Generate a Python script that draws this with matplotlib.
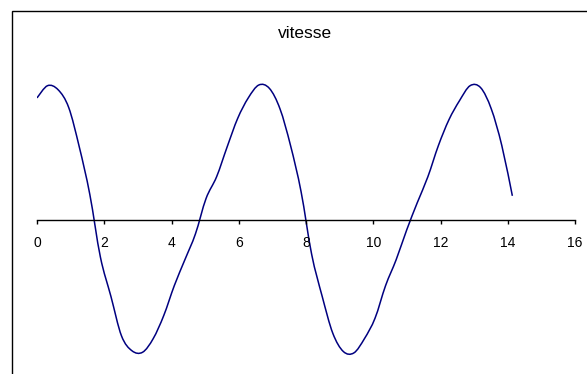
import numpy as np
import matplotlib
matplotlib.use("Agg")
import matplotlib.pyplot as plt
from matplotlib.patches import Rectangle, PathPatch
from matplotlib.path import Path

plt.rcParams['font.family'] = ['Liberation Sans', 'DejaVu Sans']

# sampled time values (step ~ pi/10)
t = [0.000, 0.314, 0.628, 0.942, 1.257, 1.571, 1.885, 2.199, 2.513, 2.827,
     3.142, 3.456, 3.770, 4.084, 4.398, 4.712, 5.027, 5.341, 5.655, 5.969,
     6.283, 6.597, 6.912, 7.226, 7.540, 7.854, 8.168, 8.482, 8.796, 9.111,
     9.425, 9.739, 10.053, 10.367, 10.681, 10.996, 11.310, 11.624, 11.938, 12.252,
     12.566, 12.881, 13.195, 13.509, 13.823, 14.137]
vitesse = [0.90, 0.99, 0.96, 0.83, 0.54, 0.19, -0.27, -0.56, -0.85, -0.96,
           -0.97, -0.87, -0.70, -0.48, -0.29, -0.10, 0.16, 0.32, 0.54, 0.75,
           0.90, 0.995, 0.97, 0.82, 0.55, 0.21, -0.25, -0.56, -0.83, -0.965,
           -0.975, -0.87, -0.72, -0.48, -0.29, -0.07, 0.13, 0.32, 0.55, 0.74,
           0.88, 0.99, 0.975, 0.82, 0.55, 0.18]
xticks = [0, 2, 4, 6, 8, 10, 12, 14, 16]
title = "vitesse"

W, H = 587, 374
fig = plt.figure(figsize=(W / 100, H / 100), dpi=100)
fig.patch.set_facecolor('white')

# outer chart frame (continues past right/bottom edges)
fig.patches.append(Rectangle((12 / W, -0.1), 1.2, 1 - 11 / H + 0.1,
                             transform=fig.transFigure, fill=False,
                             edgecolor='black', linewidth=1.0))

ax_left = 37 / W
ax_width = 538 / W
ax_bottom = (H - 372.6) / H
ax_height = 304.6 / H
ax = fig.add_axes([ax_left, ax_bottom, ax_width, ax_height])
ax.set_facecolor('none')

# Excel-style smoothed line: cubic Bezier through the data points
P = np.column_stack([t, vitesse])
n = len(P)
verts = [tuple(P[0])]
codes = [Path.MOVETO]
for i in range(n - 1):
    p0 = P[i - 1] if i > 0 else P[i]
    p1 = P[i]
    p2 = P[i + 1]
    p3 = P[i + 2] if i + 2 < n else P[i + 1]
    c1 = p1 + (p2 - p0) / 6.0
    c2 = p2 - (p3 - p1) / 6.0
    verts += [tuple(c1), tuple(c2), tuple(p2)]
    codes += [Path.CURVE4] * 3
ax.add_patch(PathPatch(Path(verts, codes), facecolor='none',
                       edgecolor='#000080', linewidth=1.1))

ax.set_xlim(0, 16)
ax.set_ylim(-1.12, 1.12)
ax.set_xticks(xticks)
ax.set_xticklabels([str(v) for v in xticks], fontsize=11.5)
ax.set_yticks([])
for s in ['left', 'right', 'top']:
    ax.spines[s].set_visible(False)
ax.spines['bottom'].set_position(('data', 0))
ax.spines['bottom'].set_linewidth(1.0)
ax.spines['bottom'].set_color('black')
ax.tick_params(axis='x', direction='out', length=3, width=1.0, pad=8.0,
               colors='black')

fig.text(305 / W, 1 - 38.3 / H, title, ha='center', va='baseline', fontsize=12.5)

fig.savefig('out.png', dpi=100)
